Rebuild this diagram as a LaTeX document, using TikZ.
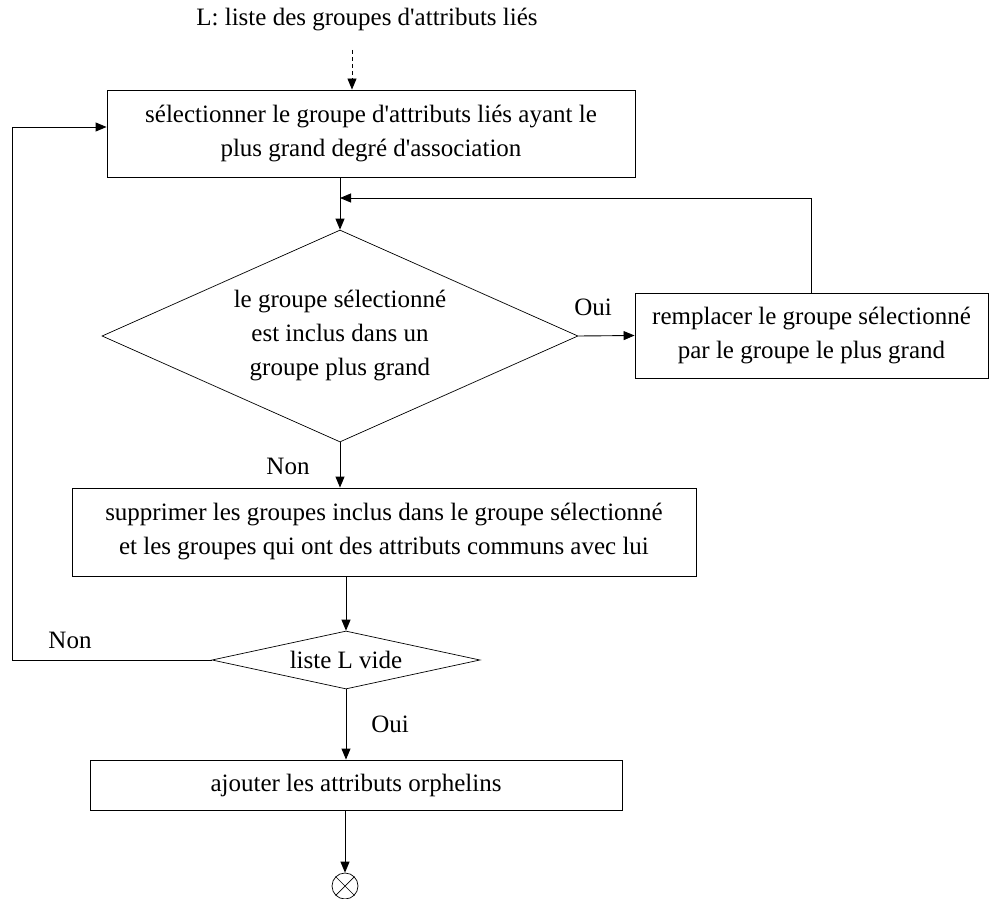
\documentclass[tikz,border=0pt]{standalone}
\usepackage{fontspec}
\setmainfont{Liberation Serif}[Ligatures=TeXOff]
\usetikzlibrary{arrows.meta,shapes.geometric}

\tikzset{
  flowbox/.style={draw, line width=0.9pt, inner sep=0pt, align=center},
  flowtest/.style={draw, diamond, line width=0.7pt, inner sep=0pt, align=center},
  flowarrow/.style={line width=0.9pt, -{Triangle[length=11pt,width=9pt]}},
  txt/.style={font=\fontsize{25}{34}\selectfont}
}

\begin{document}
\begin{tikzpicture}[x=1pt,y=1pt,yscale=-1,xscale=1,every node/.style={txt}]
\useasboundingbox (0,0) rectangle (989,899);

% Text Node
\node (title) at (367,20) {L: liste des groupes d'attributs liés};
\coordinate (start) at (352,50);

%Shape: Rectangle
\node [flowbox, minimum width=528, minimum height=87] (select) at (371,133.5)
  {sélectionner le groupe d'attributs liés ayant le\\plus grand degré d'association};

%Shape: Diamond
\node [flowtest, aspect=2.245, minimum width=476, minimum height=212] (included) at (340,336)
  {le groupe sélectionné\\est inclus dans un\\groupe plus grand};

%Shape: Rectangle
\node [flowbox, minimum width=353, minimum height=85] (replace) at (811.5,335.5)
  {remplacer le groupe sélectionné\\par le groupe le plus grand};

%Shape: Rectangle
\node [flowbox, minimum width=624, minimum height=88] (remove) at (384,532)
  {supprimer les groupes inclus dans le groupe sélectionné\\et les groupes qui ont des attributs communs avec lui};

%Shape: Diamond
\node [flowtest, aspect=4.6, minimum width=268, minimum height=58] (empty) at (346,660)
  {liste L vide};

%Shape: Rectangle
\node [flowbox, minimum width=532, minimum height=50] (orphans) at (356,785)
  {ajouter les attributs orphelins};

%Shape: Circle
\node [draw, circle, line width=0.7pt, minimum size=26, inner sep=0pt] (stop) at (345,886) {};
\draw [line width=0.7pt] (stop.north east) -- (stop.south west) (stop.north west) -- (stop.south east);

\coordinate (join) at (340,198);
\coordinate (loop) at (12,127);

%Straight Lines
\draw [flowarrow, dash pattern={on 4pt off 3pt}] (start) -- (start |- select.north);
\draw [line width=0.9pt] (select.south -| included.north) -- (join);
\draw [flowarrow] (join) -- (included.north);
\draw [flowarrow] (replace.north) |- (join);
\draw [flowarrow] (included.east) -- (replace.west);
\draw [flowarrow] (included.south) -- (included.south |- remove.north);
\draw [flowarrow] (remove.south -| empty.north) -- (empty.north);
\draw [flowarrow] (empty.west) -| (loop) -- (loop -| select.west);
\draw [flowarrow] (empty.south) -- (empty.south |- orphans.north);
\draw [flowarrow] (orphans.south -| stop.north) -- (stop.north);

% Text Node
\node at (593,307) {Oui};
% Text Node
\node at (288,466) {Non};
% Text Node
\node at (70,640) {Non};
% Text Node
\node at (390,724) {Oui};

\end{tikzpicture}
\end{document}
